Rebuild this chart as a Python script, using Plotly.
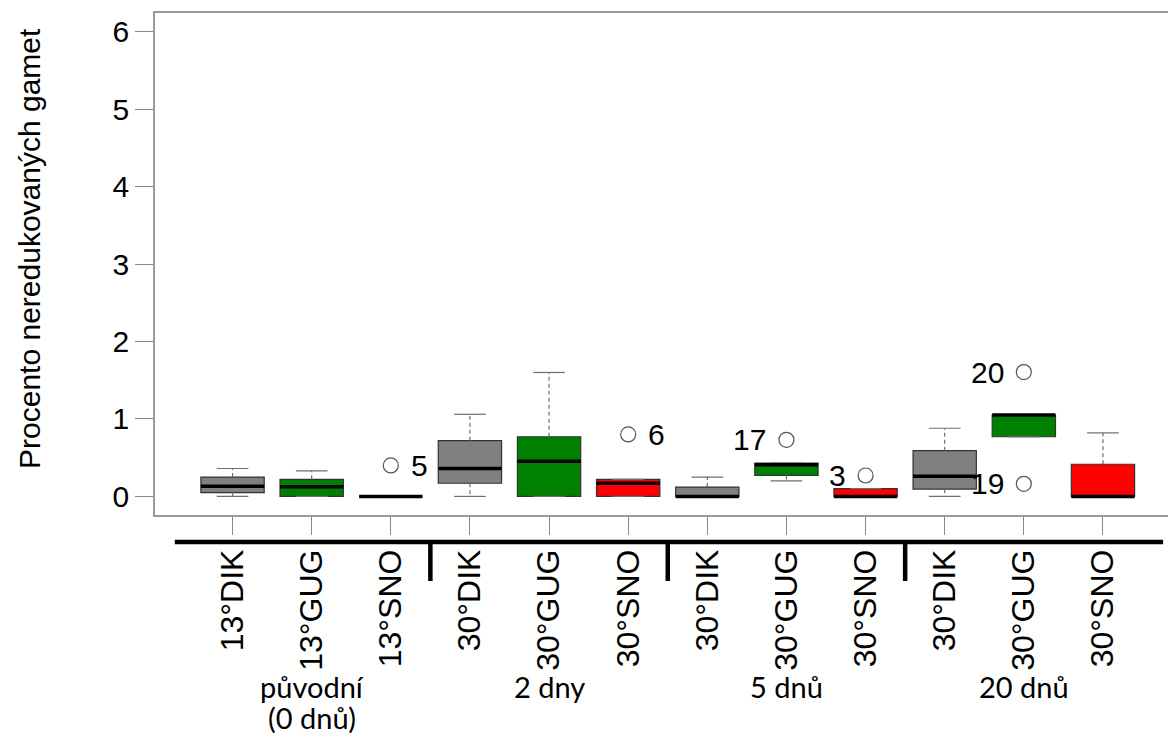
import plotly.graph_objects as go

# ---- data ----
tick_labels = ["13°DIK", "13°GUG", "13°SNO",
               "30°DIK", "30°GUG", "30°SNO",
               "30°DIK", "30°GUG", "30°SNO",
               "30°DIK", "30°GUG", "30°SNO"]
positions = list(range(1, 13))
lower_whisker = [0.00, 0.00, 0.00, 0.00, 0.00, 0.00, 0.00, 0.20, 0.00, 0.00, 0.77, 0.00]
q1            = [0.05, 0.00, 0.00, 0.17, 0.00, 0.00, 0.00, 0.27, 0.00, 0.095, 0.77, 0.00]
median        = [0.13, 0.125, 0.00, 0.36, 0.455, 0.17, 0.00, 0.41, 0.00, 0.26, 1.05, 0.00]
q3            = [0.25, 0.22, 0.00, 0.72, 0.77, 0.22, 0.12, 0.43, 0.10, 0.59, 1.05, 0.415]
upper_whisker = [0.36, 0.33, 0.00, 1.06, 1.60, 0.22, 0.25, 0.43, 0.10, 0.88, 1.05, 0.82]
box_colors = ["#808080", "#008000", "#FF0000"] * 4

outlier_pos = [3, 6, 8, 9, 11, 11]
outlier_val = [0.40, 0.80, 0.73, 0.27, 1.605, 0.163]
outlier_lab = ["5", "6", "17", "3", "20", "19"]
outlier_side = ["right", "right", "left", "left", "left", "left"]

group_labels = ["původní", "2 dny", "5 dnů", "20 dnů"]
group_sub = ["(0 dnů)", "", "", ""]
group_centers = [2, 5, 8, 11]
separators = [3.5, 6.5, 9.5]

y_ticks = [0, 1, 2, 3, 4, 5, 6]
y_title = "Procento neredukovaných gamet"

BOX_W = 0.8
CAP_W = 0.4
AX = "Liberation Sans, Arial, sans-serif"

fig = go.Figure()

# boxes (q1..q3)
fig.add_trace(go.Bar(
    x=positions, y=[b - a for a, b in zip(q1, q3)], base=q1, width=BOX_W,
    marker=dict(color=box_colors, line=dict(color="#333333", width=1.2)),
    showlegend=False, hoverinfo="skip"))

# whiskers, caps, medians
wx, wy, cx, cy, mx, my = [], [], [], [], [], []
for p, lw, a, m, b, uw in zip(positions, lower_whisker, q1, median, q3, upper_whisker):
    if uw > b:
        wx += [p, p, None]; wy += [b, uw, None]
    if lw < a:
        wx += [p, p, None]; wy += [a, lw, None]
    cx += [p - CAP_W / 2, p + CAP_W / 2, None]; cy += [uw, uw, None]
    cx += [p - CAP_W / 2, p + CAP_W / 2, None]; cy += [lw, lw, None]
    mx += [p - BOX_W / 2, p + BOX_W / 2, None]; my += [m, m, None]

fig.add_trace(go.Scatter(x=wx, y=wy, mode="lines",
                         line=dict(color="#6e6e6e", width=1.2, dash="4px,3px"),
                         showlegend=False, hoverinfo="skip"))
fig.add_trace(go.Scatter(x=cx, y=cy, mode="lines",
                         line=dict(color="#6e6e6e", width=1.2),
                         showlegend=False, hoverinfo="skip"))
fig.add_trace(go.Scatter(x=mx, y=my, mode="lines",
                         line=dict(color="black", width=3.5),
                         showlegend=False, hoverinfo="skip"))

# outliers
fig.add_trace(go.Scatter(x=outlier_pos, y=outlier_val, mode="markers",
                         marker=dict(symbol="circle-open", size=15,
                                     color="#555555", line=dict(width=1.2)),
                         showlegend=False, hoverinfo="skip"))
for p, v, lab, side in zip(outlier_pos, outlier_val, outlier_lab, outlier_side):
    fig.add_annotation(x=p, y=v, xref="x", yref="y", text=lab, showarrow=False,
                       xanchor="left" if side == "right" else "right",
                       xshift=18 if side == "right" else -18, yanchor="middle",
                       font=dict(family=AX, size=30, color="black"))

# bottom thick line and group separators
fig.add_shape(type="line", xref="x", yref="paper", x0=0.27, x1=12.76,
              y0=-0.0538, y1=-0.0538, line=dict(color="black", width=4.5))
for s in separators:
    fig.add_shape(type="line", xref="x", yref="paper", x0=s, x1=s,
                  y0=-0.0538, y1=-0.1315, line=dict(color="black", width=4.5))

# group labels
GF = "Lato, Open Sans, sans-serif"
for c, lab, sub in zip(group_centers, group_labels, group_sub):
    fig.add_annotation(x=c, y=-0.341, xref="x", yref="paper", text=lab,
                       showarrow=False, xanchor="center", yanchor="middle",
                       font=dict(family=GF, size=29, color="black"))
    if sub:
        fig.add_annotation(x=c, y=-0.404, xref="x", yref="paper", text=sub,
                           showarrow=False, xanchor="center", yanchor="middle",
                           font=dict(family=GF, size=29, color="black"))

# y title
fig.add_annotation(x=-0.1234, y=0.532, xref="paper", yref="paper", text=y_title,
                   showarrow=False, textangle=-90, xanchor="center", yanchor="middle",
                   font=dict(family=AX, size=30, color="black"))

fig.update_layout(
    width=1168, height=737,
    margin=dict(l=155, r=0, t=13, b=222),
    paper_bgcolor="white", plot_bgcolor="white",
    showlegend=False,
    xaxis=dict(range=[0.02, 12.822], tickmode="array", tickvals=positions,
               ticktext=tick_labels, tickangle=-90, ticks="outside", ticklen=18,
               tickcolor="#8a8a8a", tickwidth=1, ticklabelstandoff=2,
               tickfont=dict(family=AX, size=32, color="black"),
               showline=True, linecolor="#9a9a9a", linewidth=1.5, mirror=True,
               showgrid=False, zeroline=False),
    yaxis=dict(range=[-0.24, 6.24], tickmode="array", tickvals=y_ticks,
               ticks="outside", ticklen=18, tickcolor="#8a8a8a", tickwidth=1,
               ticklabelstandoff=0,
               tickfont=dict(family=AX, size=30, color="black"),
               showline=True, linecolor="#9a9a9a", linewidth=1.5, mirror=False,
               showgrid=False, zeroline=False),
)

fig.write_html("out.html")
